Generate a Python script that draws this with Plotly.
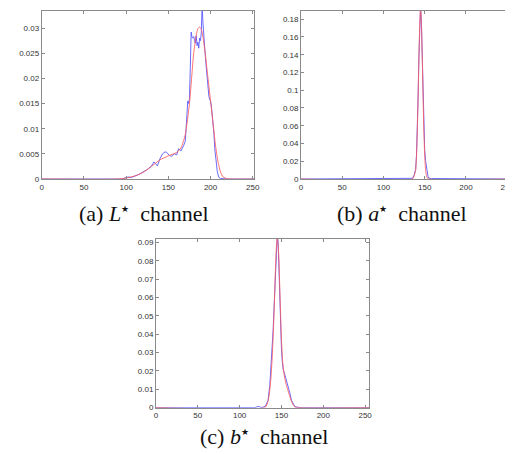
import plotly.graph_objects as go

# ---------------- data ----------------
# (a) L* channel
L_hist_x = [0, 95, 100, 103, 106, 110, 115, 120, 125, 130, 133, 135, 137, 140, 143, 146, 148, 151,
            154, 157, 160, 162, 165, 168, 170, 171, 172, 173, 174, 175, 176, 177, 178, 179, 180, 181,
            182, 183, 184, 185, 186, 187, 188, 189, 190, 191, 192, 193, 194, 195, 196, 197, 198, 199,
            200, 201, 202, 203, 204, 205, 206, 207, 208, 209, 210, 212, 220, 255]
L_hist_y = [0, 0, 0.0003, 0.0004, 0.0003, 0.0005, 0.0009, 0.0014, 0.0019, 0.0026, 0.0034, 0.0030, 0.0026,
            0.0040, 0.0050, 0.0054, 0.0053, 0.0047, 0.0045, 0.0050, 0.0048, 0.0060, 0.0056, 0.0066,
            0.0075, 0.0100, 0.0135, 0.0155, 0.0150, 0.0160, 0.0220, 0.0292, 0.0282, 0.0280, 0.0283,
            0.0272, 0.0270, 0.0285, 0.0265, 0.0272, 0.0260, 0.0280, 0.0275, 0.0290, 0.0345, 0.0310,
            0.0280, 0.0260, 0.0240, 0.0220, 0.0200, 0.0180, 0.0165, 0.0158, 0.0155, 0.0145, 0.0130,
            0.0115, 0.0090, 0.0060, 0.0040, 0.0025, 0.0015, 0.0008, 0.0003, 0.0001, 0, 0]
L_fit_x = [0, 90, 100, 110, 120, 130, 140, 150, 160, 165, 170, 175, 178, 180, 183, 185, 187, 189,
           191, 194, 197, 200, 203, 206, 209, 212, 215, 220, 255]
L_fit_y = [0, 0, 0.0002, 0.0006, 0.0013, 0.0025, 0.0038, 0.0046, 0.0053, 0.0062, 0.0088, 0.0150,
           0.0210, 0.0250, 0.0285, 0.0299, 0.0302, 0.0298, 0.0282, 0.0245, 0.0200, 0.0155, 0.0110,
           0.0065, 0.0033, 0.0013, 0.0004, 0.00005, 0]

# (b) a* channel
a_hist_x = [0, 118, 120, 125, 130, 135, 137, 139, 140, 141, 142, 143, 144, 145, 146, 147, 148, 149,
            150, 151, 152, 153, 154, 155, 158, 165, 175, 176, 255]
a_hist_y = [0, 0, 0.0005, 0.0005, 0.0005, 0.0008, 0.0040, 0.0110, 0.0260, 0.0530, 0.0930, 0.1380,
            0.1750, 0.1950, 0.1760, 0.1400, 0.0950, 0.0580, 0.0330, 0.0210, 0.0130, 0.0070, 0.0030,
            0.0010, 0.0005, 0.0005, 0.0005, 0, 0]
a_fit_x = [0, 135, 137, 139, 140, 141, 142, 143, 144, 145, 146, 147, 148, 149, 150, 151, 152, 153,
           155, 255]
a_fit_y = [0, 0, 0.0030, 0.0100, 0.0250, 0.0520, 0.0920, 0.1370, 0.1740, 0.1930, 0.1760, 0.1390,
           0.0930, 0.0540, 0.0270, 0.0110, 0.0040, 0.0012, 0, 0]

# (c) b* channel
b_hist_x = [0, 118, 121, 123, 125, 128, 131, 134, 136, 138, 140, 141, 142, 143, 144, 145, 146, 147,
            148, 149, 150, 151, 152, 154, 156, 158, 160, 162, 164, 166, 170, 175, 255]
b_hist_y = [0, 0, 0.0005, 0.0006, 0.0002, 0.0002, 0.0010, 0.0040, 0.0120, 0.0250, 0.0420, 0.0530,
            0.0660, 0.0800, 0.0900, 0.0940, 0.0900, 0.0750, 0.0550, 0.0420, 0.0320, 0.0250, 0.0210,
            0.0180, 0.0150, 0.0120, 0.0080, 0.0040, 0.0020, 0.0005, 0.0002, 0, 0]
b_fit_x = [0, 130, 133, 135, 137, 139, 141, 143, 144, 145, 146, 147, 148, 149, 150, 151, 152, 154,
           156, 158, 160, 162, 164, 166, 170, 255]
b_fit_y = [0, 0, 0.0020, 0.0060, 0.0140, 0.0280, 0.0500, 0.0780, 0.0880, 0.0925, 0.0890, 0.0800,
           0.0650, 0.0500, 0.0370, 0.0280, 0.0220, 0.0160, 0.0120, 0.0090, 0.0060, 0.0035, 0.0015,
           0.0005, 0, 0]

x_tick_vals = [0, 50, 100, 150, 200, 250]
x_tick_text = ["0", "50", "100", "150", "200", "250"]
a_ytick_vals = [0, 0.005, 0.01, 0.015, 0.02, 0.025, 0.03]
a_ytick_text = ["0", "0.005", "0.01", "0.015", "0.02", "0.025", "0.03"]
b_ytick_vals = [0, 0.02, 0.04, 0.06, 0.08, 0.1, 0.12, 0.14, 0.16, 0.18]
b_ytick_text = ["0", "0.02", "0.04", "0.06", "0.08", "0.1", "0.12", "0.14", "0.16", "0.18"]
c_ytick_vals = [0, 0.01, 0.02, 0.03, 0.04, 0.05, 0.06, 0.07, 0.08, 0.09]
c_ytick_text = ["0", "0.01", "0.02", "0.03", "0.04", "0.05", "0.06", "0.07", "0.08", "0.09"]

caption_labels = ["(a)", "(b)", "(c)"]
caption_vars = ["L", "a", "b"]
captions = [f"{lab} <i>{v}</i><sup><span style='font-size:9px'>★</span></sup>&nbsp; channel"
            for lab, v in zip(caption_labels, caption_vars)]

# ---------------- figure ----------------
W, H = 513, 454
BLUE = "rgba(90,90,255,0.9)"
RED = "rgba(255,90,90,0.85)"

fig = go.Figure()

panels = [
    # (hist_x, hist_y, fit_x, fit_y, xdomain px, ydomain px (top,bottom), xmax, ymax, yticks)
    (L_hist_x, L_hist_y, L_fit_x, L_fit_y, (32.3, 248.3), (2, 172.3), 252, 0.0334,
     a_ytick_vals, a_ytick_text),
    (a_hist_x, a_hist_y, a_fit_x, a_fit_y, (295.7, 510), (1.7, 172.3), 256, 0.1896,
     b_ytick_vals, b_ytick_text),
    (b_hist_x, b_hist_y, b_fit_x, b_fit_y, (148.3, 365), (233, 404), 255, 0.0919,
     c_ytick_vals, c_ytick_text),
]

layout_axes = {}
for i, (hx, hy, fx, fy, xd, yd, xmax, ymax, ytv, ytt) in enumerate(panels):
    n = "" if i == 0 else str(i + 1)
    xa, ya = "x" + n, "y" + n
    fig.add_trace(go.Scatter(x=hx, y=hy, mode="lines", xaxis=xa, yaxis=ya,
                             line=dict(color=BLUE, width=1), showlegend=False,
                             cliponaxis=True))
    fig.add_trace(go.Scatter(x=fx, y=fy, mode="lines", xaxis=xa, yaxis=ya,
                             line=dict(color=RED, width=1, shape="spline", smoothing=0.6),
                             showlegend=False, cliponaxis=True))
    common = dict(showline=True, linecolor="#8a8a8a", linewidth=1, mirror="ticks",
                  ticks="inside", ticklen=3, tickcolor="#8a8a8a", showgrid=False,
                  zeroline=False, tickfont=dict(family="Liberation Sans, Arial", size=8,
                                                color="#333333"))
    layout_axes["xaxis" + n] = dict(domain=[xd[0] / W, xd[1] / W], range=[0, xmax],
                                    anchor=ya, tickvals=x_tick_vals, ticktext=x_tick_text,
                                    **common)
    layout_axes["yaxis" + n] = dict(domain=[1 - yd[1] / H, 1 - yd[0] / H], range=[0, ymax],
                                    anchor=xa, tickvals=ytv, ticktext=ytt, **common)

fig.update_layout(**layout_axes)

cap_pos = [(136, 207), (398, 207), (258, 433)]
for text, (cx, cy) in zip(captions, cap_pos):
    fig.add_annotation(text=text, x=cx / W, y=1 - cy / H, xref="paper", yref="paper",
                       showarrow=False, xanchor="center", yanchor="middle",
                       font=dict(family="Liberation Serif, Times New Roman, serif", size=22,
                                 color="#111111"))

fig.update_layout(width=W, height=H, margin=dict(l=0, r=0, t=0, b=0),
                  paper_bgcolor="white", plot_bgcolor="white")

fig.write_html("out.html", config={"displayModeBar": False})
